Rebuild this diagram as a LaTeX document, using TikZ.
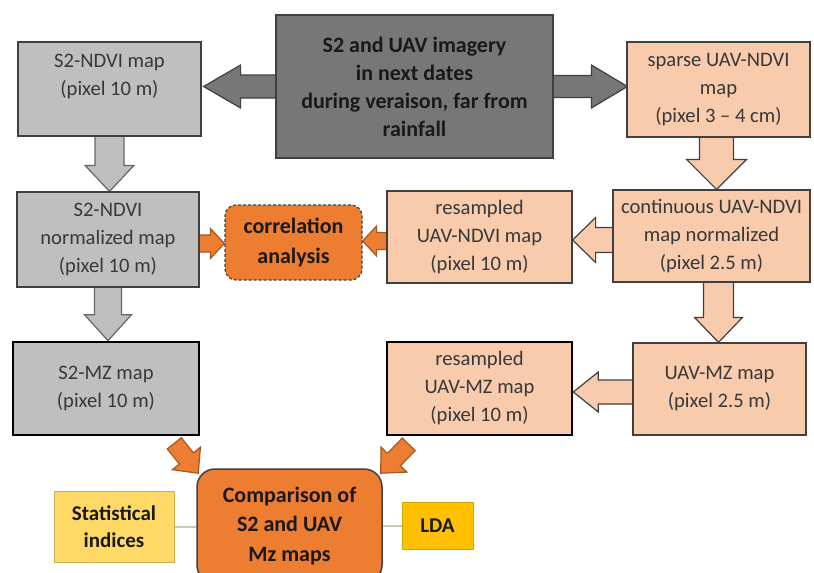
\documentclass[tikz,border=0pt]{standalone}
\usepackage{fontspec}
\setmainfont{Carlito}
\usetikzlibrary{calc,backgrounds}
\definecolor{dgrey}{HTML}{777777}
\definecolor{lgrey}{HTML}{BFBFBF}
\definecolor{peach}{HTML}{F8CBAD}
\definecolor{orng}{HTML}{ED7D31}
\definecolor{yel}{HTML}{FFD966}
\definecolor{gold}{HTML}{FFC000}
\definecolor{bord}{HTML}{404040}
\definecolor{txt}{HTML}{383838}
\definecolor{linec}{HTML}{C8CBA8}
\newcommand{\blockarr}[6]{%
  \coordinate (ba-A) at #2;
  \coordinate (ba-B) at #3;
  \coordinate (ba-C) at ($(ba-B)!#6pt!(ba-A)$);
  \draw[#1] ($(ba-A)!#4pt!90:(ba-B)$) -- ($(ba-C)!#4pt!90:(ba-B)$) -- ($(ba-C)!#5pt!90:(ba-B)$) -- (ba-B) -- ($(ba-C)!#5pt!-90:(ba-B)$) -- ($(ba-C)!#4pt!-90:(ba-B)$) -- ($(ba-A)!#4pt!-90:(ba-B)$) -- cycle;
}
\tikzset{
  box/.style={draw=bord, line width=1.2pt, inner sep=0pt, align=center, text=txt,
    font=\fontsize{20.6}{28}\selectfont},
  greybox/.style={box, fill=lgrey},
  peachbox/.style={box, fill=peach},
  thickbox/.style={line width=2.6pt, draw=black},
  boldbox/.style={box, font=\fontsize{22}{28}\selectfont\bfseries, text=black!90},
  greyarr/.style={fill=lgrey, draw=black!60, line width=1.2pt, line join=miter},
  darkarr/.style={fill=dgrey, draw=bord, line width=1.2pt, line join=miter},
  peacharr/.style={fill=peach, draw=bord, line width=1.2pt, line join=miter},
  orarr/.style={fill=orng, draw=orng!70!black, line width=1.2pt, line join=miter},
}
\begin{document}
\begin{tikzpicture}[x=1pt, y=-1pt]
\useasboundingbox (0,0) rectangle (814,573);
\clip (0,0) rectangle (814,573);

\node[boldbox, fill=dgrey, minimum width=277pt, minimum height=143pt] (top) at (414.5,86.5)
  {S2 and UAV imagery\\in next dates\\during veraison, far from\\rainfall};
\node[greybox, minimum width=183pt, minimum height=94pt] (s2) at (109.5,89)
  {S2-NDVI map\\(pixel 10 m)\\\mbox{}};
\node[peachbox, minimum width=183pt, minimum height=95pt] (sparse) at (718.5,89.5)
  {sparse UAV-NDVI\\map\\(pixel 3 – 4 cm)};
\node[greybox, minimum width=182pt, minimum height=95pt] (s2n) at (108,239.5)
  {S2-NDVI\\normalized map\\(pixel 10 m)};
\node[boldbox, fill=orng, dashed, dash pattern=on 3pt off 2pt, rounded corners=11pt,
  font=\fontsize{22}{30}\selectfont\bfseries,
  minimum width=137pt, minimum height=75pt] (corr) at (293.5,242.5)
  {correlation\\analysis};
\node[peachbox, minimum width=185pt, minimum height=92pt] (res) at (479.5,237)
  {resampled\\UAV-NDVI map\\(pixel 10 m)};
\node[peachbox, minimum width=197pt, minimum height=92pt] (cont) at (711.5,236)
  {continuous UAV-NDVI\\map normalized\\(pixel 2.5 m)};
\node[greybox, thickbox, minimum width=186pt, minimum height=93pt] (s2mz) at (106,388.5)
  {S2-MZ map\\(pixel 10 m)};
\node[peachbox, thickbox, minimum width=185pt, minimum height=93pt] (resmz) at (479.5,388.5)
  {resampled\\UAV-MZ map\\(pixel 10 m)};
\node[peachbox, minimum width=173pt, minimum height=92pt] (uavmz) at (719.5,389)
  {UAV-MZ map\\(pixel 2.5 m)};
\node[boldbox, fill=orng, rounded corners=18pt, line width=1.5pt,
  font=\fontsize{22}{29.5}\selectfont\bfseries,
  minimum width=185pt, minimum height=114pt] (comp) at (289.5,526)
  {Comparison of\\S2 and UAV\\Mz maps};
\node[boldbox, fill=yel, draw=yel!80!black, line width=1pt,
  font=\fontsize{21}{27}\selectfont\bfseries,
  minimum width=120pt, minimum height=71pt] (stat) at (114,526.5)
  {Statistical\\indices};
\node[boldbox, fill=gold, draw=gold!85!black, line width=1pt,
  font=\fontsize{21}{27}\selectfont\bfseries,
  minimum width=71pt, minimum height=47pt] (lda) at (437.5,525.5)
  {LDA};

\begin{pgfonlayer}{background}
\fill[white] (0,0) rectangle (814,573);
\draw[linec, line width=2pt] (stat.east) -- (stat.east -| comp.west);
\draw[linec, line width=2pt] (lda.west) -- (lda.west -| comp.east);
\blockarr{darkarr}{($(top.west)+(4,0)$)}{($(top.west -| s2.east)+(2,0)$)}{11.5}{21.5}{37}
\blockarr{darkarr}{($(top.east)+(-4,0)$)}{($(top.east -| sparse.west)+(1,0)$)}{11}{21.5}{36}
\blockarr{greyarr}{($(s2.south)+(0,-4)$)}{(s2.south |- s2n.north)}{14.5}{24.5}{26}
\blockarr{greyarr}{($(s2n.south)+(0,-4)$)}{(s2n.south |- s2mz.north)}{13.5}{23.5}{26}
\blockarr{peacharr}{($(sparse.south)+(-2,-4)$)}{($(sparse.south |- cont.north)+(-2,0)$)}{17}{30}{30}
\blockarr{peacharr}{($(cont.south)+(7,-4)$)}{($(cont.south |- uavmz.north)+(7,0)$)}{15}{24}{25}
\blockarr{peacharr}{($(cont.west)+(4,4)$)}{($(cont.west -| res.east)+(0,4)$)}{12.5}{22.5}{23}
\blockarr{peacharr}{($(uavmz.west)+(4,3)$)}{($(uavmz.west -| resmz.east)+(0,3)$)}{12}{20}{25}
\blockarr{orarr}{($(s2n.east)+(-3,4)$)}{($(s2n.east -| corr.west)+(0,4)$)}{8.5}{15}{14}
\blockarr{orarr}{($(res.west)+(3,4)$)}{($(res.west -| corr.east)+(0,4)$)}{8.5}{15}{14}
\blockarr{orarr}{($(s2mz.south east)+(-26,7)$)}{($(comp.north west)+(2,5)$)}{9}{18}{19}
\blockarr{orarr}{($(resmz.south west)+(23,8)$)}{($(comp.north east)+(-2,5)$)}{9}{18}{19}
\end{pgfonlayer}
\end{tikzpicture}
\end{document}
